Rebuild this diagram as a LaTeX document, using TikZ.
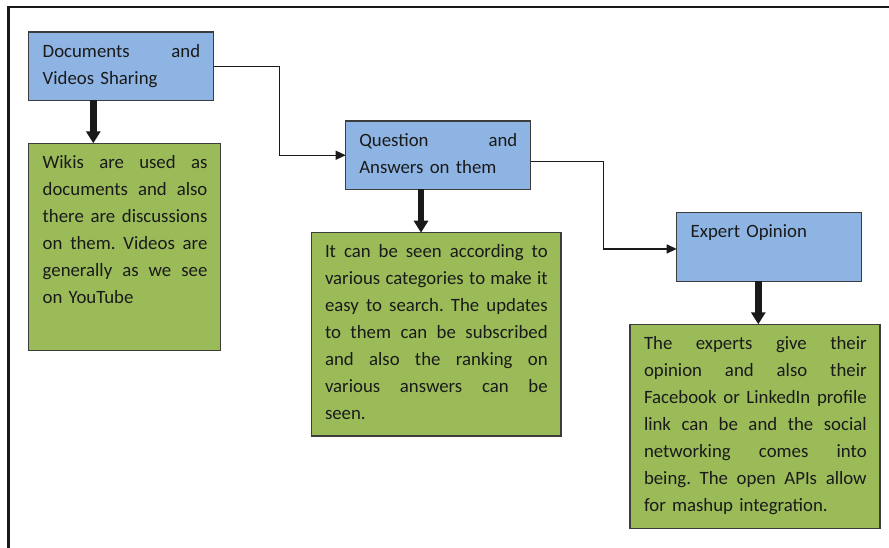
\documentclass[tikz,border=0pt]{standalone}
\usepackage{fontspec}
\setmainfont{Carlito}
\usetikzlibrary{arrows.meta,calc}

\definecolor{headblue}{RGB}{142,180,227}
\definecolor{notegreen}{RGB}{155,187,89}
\definecolor{ink}{RGB}{26,26,26}

% width of a text block; a fully justified line and a last (ragged) line,
% stacked as boxes; a strut fixing the height of a first line
\newlength\jw
\newcommand\jline[1]{\hbox to \jw{\spaceskip=0.23em plus 20em minus 0.05em\relax #1}}
\newcommand\lline[1]{\hbox{#1}}
\newcommand\firststrut{\rule{0pt}{20pt}}
\frenchspacing

\begin{document}
\begin{tikzpicture}[x=1pt,y=-1pt,
  panel/.style={draw=ink!85, line width=1.2pt, anchor=north west,
                inner sep=0pt, outer sep=0pt},
  head/.style={panel, fill=headblue, minimum width=185pt, minimum height=68.5pt},
  note/.style={panel, fill=notegreen},
  body/.style={anchor=north west, inner sep=0pt, outer sep=0pt, align=left,
               text=ink, font=\fontsize{18.8}{27}\selectfont\frenchspacing},
  bigarrow/.style={draw=ink, line width=6.5pt, -{Triangle[width=14pt,length=12pt]}},
  link/.style={draw=ink, line width=1.3pt, -{Triangle[width=9pt,length=10pt]}},
  frame/.style={draw=ink, line width=2.7pt}
]
\useasboundingbox (0,0) rectangle (889,548);

% outer frame, running off the page at right and bottom
\draw[frame] (8.3,580) -- (8.3,7) -- (920,7);

% heading boxes
\node[head] (docs) at (28.7,32) {};
\node[head] (qa)   at (345.7,121) {};
\node[head] (exp)  at (676.7,212.7) {};

% note boxes
\node[note, minimum width=192pt,   minimum height=207pt]   (wiki)   at (28.7,143.3) {};
\node[note, minimum width=249.3pt, minimum height=203.3pt] (qanote) at (311.7,232.7) {};
\node[note, minimum width=250pt,   minimum height=204pt]   (expnote) at (630,324.3) {};

% heading texts
\node[body, text width=157.5pt] (docsT) at (42.7,37.5) {%
  \setlength\jw{157.5pt}%
  \jline{\firststrut Documents and}
  \lline{Videos Sharing}};
\node[body, text width=158pt] (qaT) at (359.3,126.7) {%
  \setlength\jw{158pt}%
  \jline{\firststrut Question and}
  \lline{Answers on them}};
\node[body, text width=158pt] (expT) at (690.7,217.3) {%
  \lline{\firststrut Expert Opinion}};

% note texts
\node[body, text width=164.7pt] (wikiT) at (42.7,148.3) {%
  \setlength\jw{164.7pt}%
  \jline{\firststrut Wikis are used as}
  \jline{documents and also}
  \jline{there are discussions}
  \jline{on them. Videos are}
  \jline{generally as we see}
  \lline{on YouTube}};
\node[body, text width=222.7pt] (qanoteT) at (325,237.3) {%
  \setlength\jw{222.7pt}%
  \jline{\firststrut It can be seen according to}
  \jline{various categories to make it}
  \jline{easy to search. The updates}
  \jline{to them can be subscribed}
  \jline{and also the ranking on}
  \jline{various answers can be}
  \lline{seen.}};
\node[body, text width=222.7pt] (expnoteT) at (644,329.3) {%
  \setlength\jw{222.7pt}%
  \jline{\firststrut The experts give their}
  \jline{opinion and also their}
  \jline{Facebook or LinkedIn profile}
  \jline{link can be and the social}
  \jline{networking comes into}
  \jline{being. The open APIs allow}
  \lline{for mashup integration.}};

% heading to note arrows
\draw[bigarrow] ([xshift=64.6pt]docs.south west) -- ([xshift=64.6pt]wiki.north west);
\draw[bigarrow] ([xshift=75.3pt]qa.south west) -- ([xshift=109.3pt]qanote.north west);
\draw[bigarrow] ([xshift=81.6pt]exp.south west) -- ([xshift=128.3pt]expnote.north west);

% step connectors between headings
\draw[link] (docs.east) -- ++(66,0) |- (qa.west);
\draw[link] ([yshift=-6pt]qa.east) -- ++(73,0) |- ([yshift=-2pt]exp.west);
\end{tikzpicture}
\end{document}
